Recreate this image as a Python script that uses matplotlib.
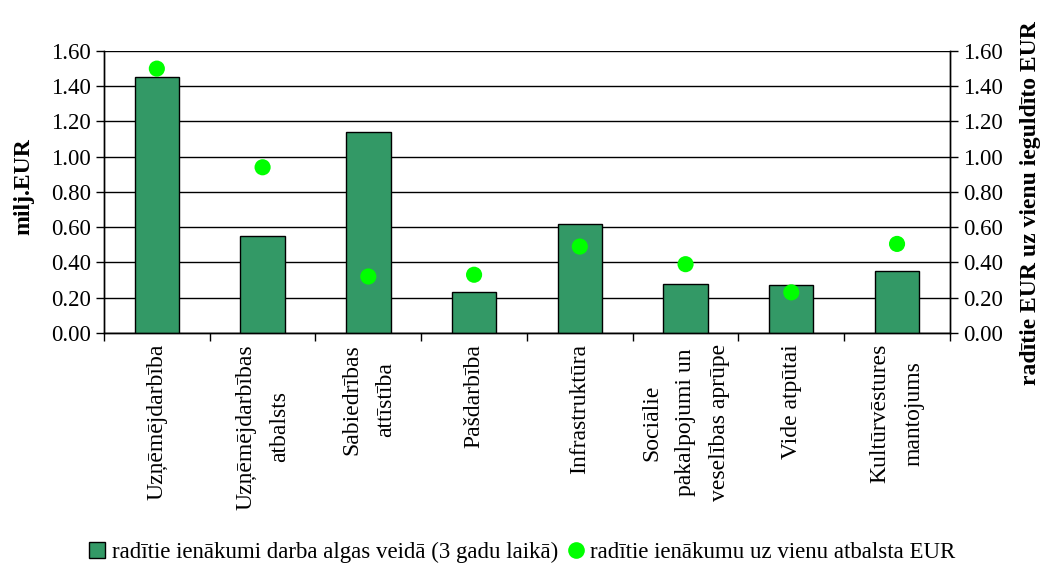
import numpy as np
import matplotlib.pyplot as plt
from matplotlib.lines import Line2D
from matplotlib.patches import Patch

plt.rcParams['font.family'] = ['Liberation Serif', 'DejaVu Serif']

categories = ['Uzņēmējdarbība', 'Uzņēmējdarbības\natbalsts', 'Sabiedrības\nattīstība',
              'Pašdarbība', 'Infrastruktūra', 'Sociālie\npakalpojumi un\nveselības aprūpe',
              'Vide atpūtai', 'Kultūrvēstures\nmantojums']
income = [1.45, 0.55, 1.14, 0.23, 0.62, 0.28, 0.27, 0.35]
per_eur = [1.50, 0.94, 0.32, 0.33, 0.49, 0.39, 0.23, 0.505]
yticks = [0.0, 0.2, 0.4, 0.6, 0.8, 1.0, 1.2, 1.4, 1.6]

bar_color = '#339966'
dot_color = '#00ff00'

fig = plt.figure(figsize=(10.45, 5.7), dpi=100)
ax = fig.add_axes([0.0995, 0.416, 0.8095, 0.4945])
x = np.arange(len(categories))

ax.bar(x, income, width=0.42, color=bar_color, edgecolor='black', linewidth=1, zorder=3)
ax.set_xlim(-0.5, len(categories) - 0.5)
ax.set_ylim(0, 1.6)
ax.set_yticks(yticks)
ax.set_yticklabels([f'{v:.2f}' for v in yticks], fontsize=16.5)
ax.yaxis.grid(True, color='black', linewidth=1, zorder=0)
ax.set_axisbelow(True)
ax.set_ylabel('milj.EUR', fontsize=17, fontweight='bold', labelpad=12)
ax.yaxis.label.set_y(0.52)

# category labels centered, tick marks on category borders
ax.set_xticks(x)
ax.set_xticklabels(categories, rotation=90, fontsize=17, va='top', ha='center',
                   multialignment='center', linespacing=1.8)
ax.tick_params(axis='x', length=0, pad=8)
ax.set_xticks(np.arange(-0.5, len(categories), 1), minor=True)
ax.tick_params(axis='x', which='minor', length=6, direction='out', width=1)
ax.tick_params(axis='y', length=6, direction='out', width=1)

ax2 = ax.twinx()
ax2.scatter(x, per_eur, s=135, color=dot_color, zorder=4, edgecolors='none')
ax2.set_ylim(0, 1.6)
ax2.set_yticks(yticks)
ax2.set_yticklabels([f'{v:.2f}' for v in yticks], fontsize=16.5)
ax2.tick_params(axis='y', length=6, direction='out', width=1)
ax2.set_ylabel('radītie EUR uz vienu ieguldīto EUR', fontsize=17, fontweight='bold',
               rotation=90, labelpad=12)
ax2.yaxis.label.set_y(0.46)

for a in (ax, ax2):
    for s in a.spines.values():
        s.set_linewidth(1)
    a.spines['top'].set_visible(False)

handles = [Patch(facecolor=bar_color, edgecolor='black', label='radītie ienākumi darba algas veidā (3 gadu laikā)'),
           Line2D([], [], marker='o', linestyle='none', markersize=12, markerfacecolor=dot_color,
                  markeredgecolor='none', label='radītie ienākumu uz vienu atbalsta EUR')]
fig.legend(handles=handles, loc='center', bbox_to_anchor=(0.5, 0.03), ncol=2, frameon=False,
           fontsize=16.5, handlelength=0.7, handletextpad=0.3, columnspacing=0.4)

fig.savefig('out.png', dpi=100)
